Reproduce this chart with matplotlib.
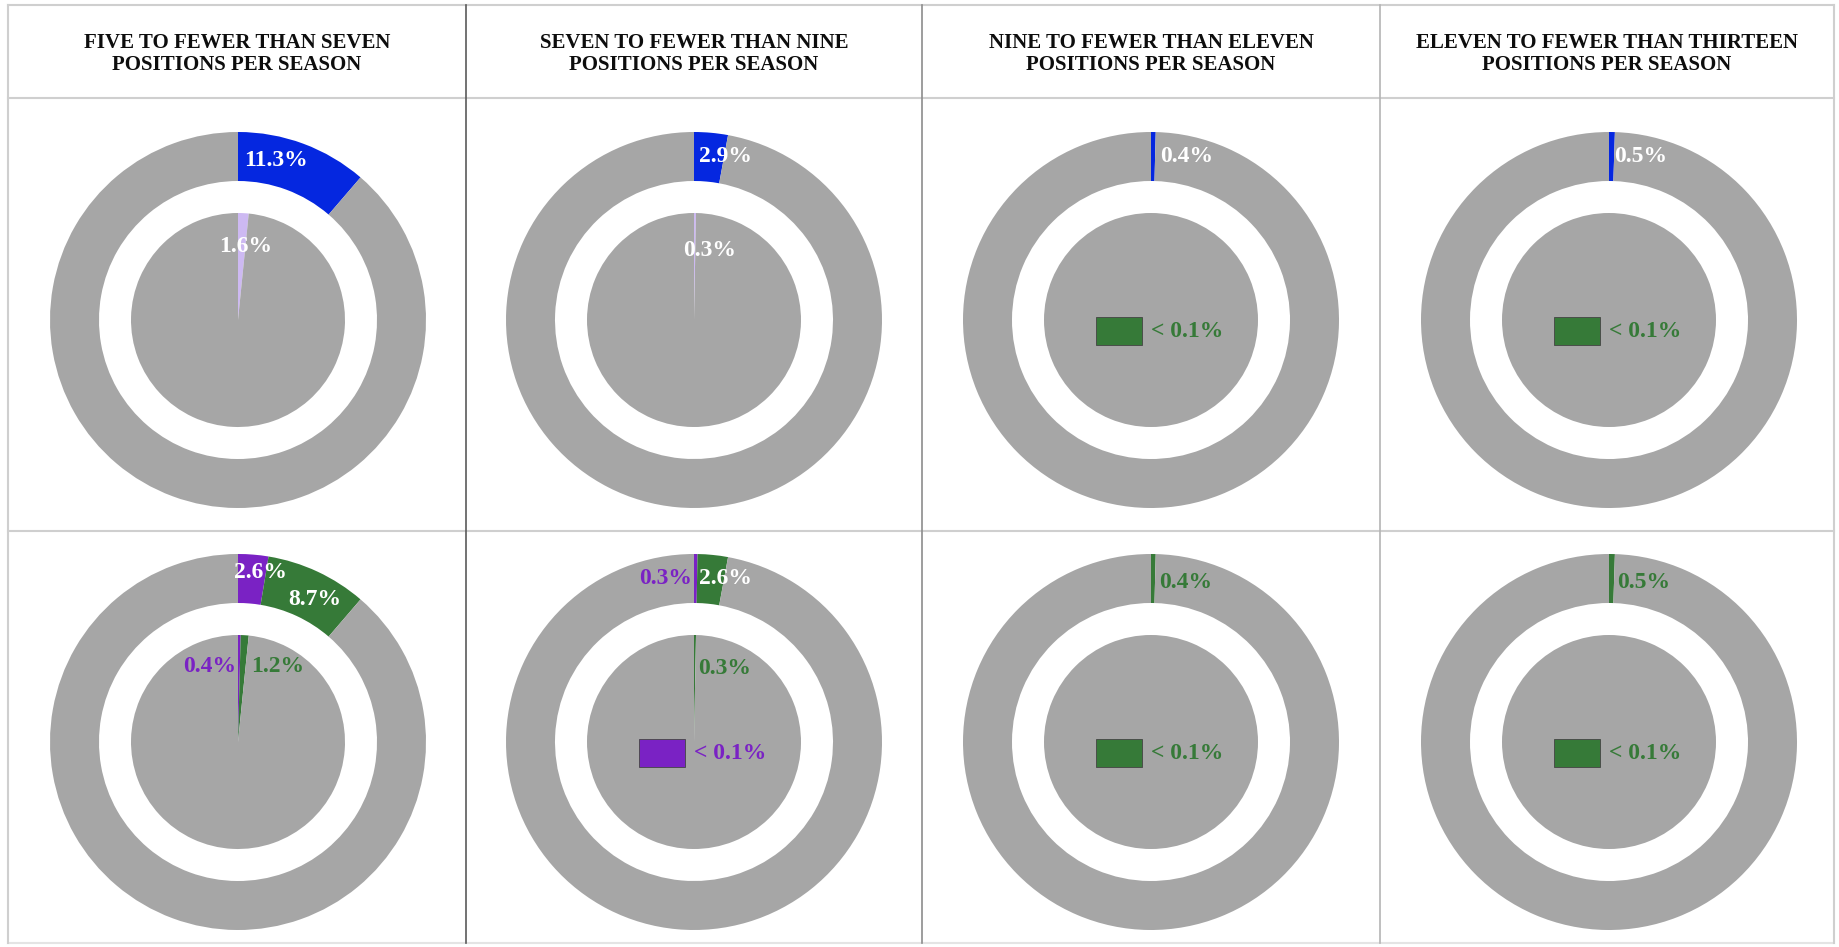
import matplotlib
matplotlib.use("Agg")
import matplotlib.pyplot as plt
from matplotlib.patches import Rectangle

# ---------------- data ----------------
titles = [
    "FIVE TO FEWER THAN SEVEN\nPOSITIONS PER SEASON",
    "SEVEN TO FEWER THAN NINE\nPOSITIONS PER SEASON",
    "NINE TO FEWER THAN ELEVEN\nPOSITIONS PER SEASON",
    "ELEVEN TO FEWER THAN THIRTEEN\nPOSITIONS PER SEASON",
]
# row 1 (blue outer ring / lavender inner pie)
row1_outer_blue = [11.3, 2.9, 0.4, 0.5]
row1_inner_lav = [1.6, 0.3, 0.0, 0.0]
# row 2 (purple + green)
row2_outer_purple = [2.6, 0.3, 0.0, 0.0]
row2_outer_green = [8.7, 2.6, 0.4, 0.5]
row2_inner_purple = [0.4, 0.0, 0.0, 0.0]
row2_inner_green = [1.2, 0.3, 0.0, 0.0]
small_label = "< 0.1%"

# ---------------- styles ----------------
GRAY = "#A6A6A6"
BLUE = "#0527E0"
LAV = "#CDB9F2"
PURPLE = "#7A22C4"
GREEN = "#367A38"
WHITE = "#FFFFFF"
FONT = ["Liberation Serif", "DejaVu Serif"]

W, H = 1839, 947
fig = plt.figure(figsize=(W / 100, H / 100), dpi=100)
bg = fig.add_axes([0, 0, 1, 1])
bg.set_xlim(0, W)
bg.set_ylim(H, 0)
bg.axis("off")

# grid lines
left, right, top, bottom = 8, 1834, 5, 943
head_y, row_y = 98, 531
col_x = [left, 466, 922, 1380, right]
lc = "#cfcfcf"
bg.plot([left, right], [top, top], color=lc, lw=1.5)
bg.plot([left, right], [head_y, head_y], color=lc, lw=1.5)
bg.plot([left, right], [row_y, row_y], color=lc, lw=1.5)
bg.plot([left, right], [bottom, bottom], color="#e4e4e4", lw=1.5)
bg.plot([left, left], [top, bottom], color=lc, lw=1.5)
bg.plot([right, right], [top, bottom], color=lc, lw=1.5)
div_colors = ["#5a5a5a", "#8c8c8c", "#b4b4b4"]
for xx, c in zip(col_x[1:4], div_colors):
    bg.plot([xx, xx], [top, bottom], color=c, lw=1.2)

centers_x = [238, 694, 1151, 1609]
centers_y = [320, 742]
for i, t in enumerate(titles):
    bg.text((col_x[i] + col_x[i + 1]) / 2, 54, t, ha="center", va="center",
            fontsize=15, fontweight="bold", family=FONT, linespacing=1.17,
            color="#0d0d0d")

R_PX = 188.0
RING_W = 1 - 139 / R_PX
INNER_R = 107 / R_PX
LIM = 1.05


def make_ax(cx, cy):
    s = 2 * LIM * R_PX
    ax = fig.add_axes([(cx - s / 2) / W, 1 - (cy + s / 2) / H, s / W, s / H])
    return ax


def finish(ax):
    ax.set_xlim(-LIM, LIM)
    ax.set_ylim(-LIM, LIM)
    ax.set_aspect("equal")
    ax.axis("off")


def ring(ax, vals, cols, radius, width=None):
    vv = [v for v in vals] + [100 - sum(vals)]
    cc = list(cols) + [GRAY]
    wp = dict(linewidth=0, edgecolor="none")
    if width is not None:
        wp["width"] = width
    ax.pie(vv, colors=cc, startangle=90, counterclock=False, radius=radius,
           wedgeprops=wp, normalize=True)


def lab(ax, v, color, x, y):
    ax.text(x, y, f"{v}%", color=color, ha="center", va="center",
            fontsize=17, fontweight="bold", family=FONT)


def small_box(ax, color):
    ax.add_patch(Rectangle((-0.29, -0.135), 0.24, 0.15, facecolor=color,
                           edgecolor="#444444", linewidth=0.6, zorder=5))
    ax.text(0.0, -0.06, small_label, color=color, ha="left", va="center",
            fontsize=17, fontweight="bold", family=FONT, zorder=6)


# ---------- row 1 ----------
row1_out_pos = [(0.20, 0.85), (0.165, 0.87), (0.19, 0.87), (0.17, 0.87)]
row1_in_pos = [(0.04, 0.39), (0.085, 0.37)]
for i in range(4):
    ax = make_ax(centers_x[i], centers_y[0])
    ring(ax, [row1_outer_blue[i]], [BLUE], 1.0, RING_W)
    ring(ax, [row1_inner_lav[i]], [LAV], INNER_R)
    lab(ax, row1_outer_blue[i], WHITE, *row1_out_pos[i])
    if row1_inner_lav[i] > 0:
        lab(ax, row1_inner_lav[i], WHITE, *row1_in_pos[i])
    else:
        small_box(ax, GREEN)
    finish(ax)

# ---------- row 2 ----------
for i in range(4):
    ax = make_ax(centers_x[i], centers_y[1])
    ring(ax, [row2_outer_purple[i], row2_outer_green[i]], [PURPLE, GREEN], 1.0, RING_W)
    ring(ax, [row2_inner_purple[i], row2_inner_green[i]], [PURPLE, GREEN], INNER_R)
    if i == 0:
        lab(ax, row2_outer_purple[i], WHITE, 0.12, 0.90)
        lab(ax, row2_outer_green[i], WHITE, 0.41, 0.76)
        lab(ax, row2_inner_purple[i], PURPLE, -0.15, 0.40)
        lab(ax, row2_inner_green[i], GREEN, 0.21, 0.40)
    elif i == 1:
        lab(ax, row2_outer_purple[i], PURPLE, -0.15, 0.87)
        lab(ax, row2_outer_green[i], WHITE, 0.17, 0.87)
        lab(ax, row2_inner_green[i], GREEN, 0.165, 0.39)
        small_box(ax, PURPLE)
    else:
        lab(ax, row2_outer_green[i], GREEN, 0.185, 0.85)
        small_box(ax, GREEN)
    finish(ax)

fig.savefig("out.png", dpi=100)
